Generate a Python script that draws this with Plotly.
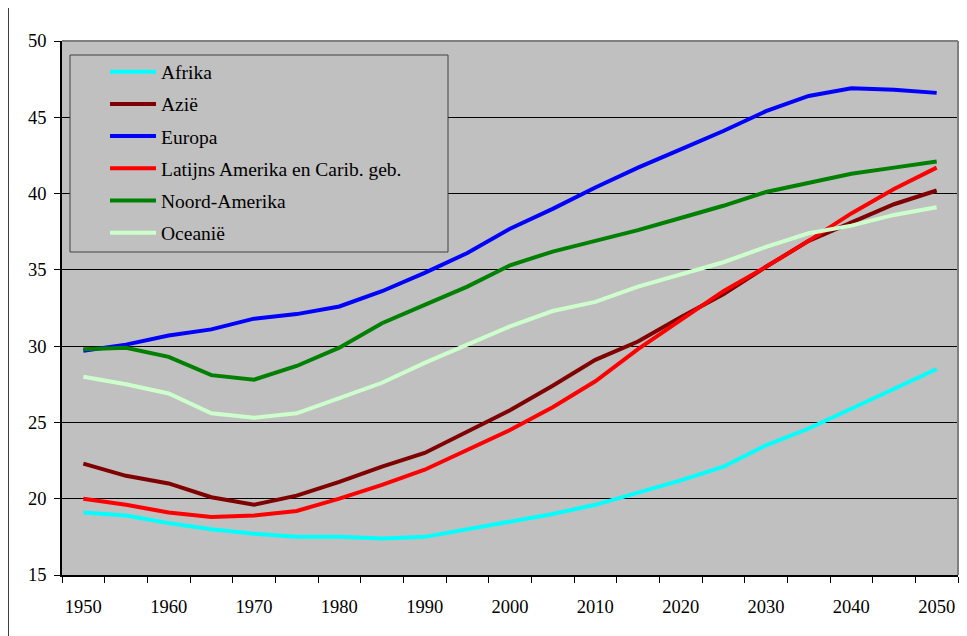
import plotly.graph_objects as go

years = list(range(1950, 2051, 5))

afrika = [19.1, 18.9, 18.4, 18.0, 17.7, 17.5, 17.5, 17.4, 17.5, 18.0, 18.5,
          19.0, 19.6, 20.4, 21.2, 22.1, 23.5, 24.6, 25.9, 27.2, 28.5]
azie = [22.3, 21.5, 21.0, 20.1, 19.6, 20.2, 21.1, 22.1, 23.0, 24.4, 25.8,
        27.4, 29.1, 30.3, 31.9, 33.4, 35.2, 36.9, 38.1, 39.3, 40.2]
europa = [29.7, 30.1, 30.7, 31.1, 31.8, 32.1, 32.6, 33.6, 34.8, 36.1, 37.7,
          39.0, 40.4, 41.7, 42.9, 44.1, 45.4, 46.4, 46.9, 46.8, 46.6]
latijns = [20.0, 19.6, 19.1, 18.8, 18.9, 19.2, 20.0, 20.9, 21.9, 23.2, 24.5,
           26.0, 27.7, 29.8, 31.7, 33.6, 35.2, 36.9, 38.7, 40.3, 41.7]
noord = [29.8, 29.9, 29.3, 28.1, 27.8, 28.7, 29.9, 31.5, 32.7, 33.9, 35.3,
         36.2, 36.9, 37.6, 38.4, 39.2, 40.1, 40.7, 41.3, 41.7, 42.1]
oceanie = [28.0, 27.5, 26.9, 25.6, 25.3, 25.6, 26.6, 27.6, 28.9, 30.1, 31.3,
           32.3, 32.9, 33.9, 34.7, 35.5, 36.5, 37.4, 37.9, 38.6, 39.1]

names = ["Afrika", "Azië", "Europa", "Latijns Amerika en Carib. geb.",
         "Noord-Amerika", "Oceanië"]
colors = ["#00FFFF", "#800000", "#0000FF", "#FF0000", "#008000", "#CCFFCC"]
series = [afrika, azie, europa, latijns, noord, oceanie]

FONT = "Liberation Serif"

# page sits 8px in from the window corner (body margin), so work in page px
OFF = 8
FW, FH = 967 - OFF, 636 - OFF
L, R, T, B = 62, 958, 41, 575          # plot area, window pixels
W, H = R - L, B - T
def px(x): return (x - L) / W
def py(y): return (B - y) / H

fig = go.Figure()
for name, col, vals in zip(names, colors, series):
    fig.add_trace(go.Scatter(x=years, y=vals, name=name, mode="lines",
                             line=dict(color=col, width=4), showlegend=False))

shapes = []
# outer chart border
shapes.append(dict(type="rect", xref="paper", yref="paper",
                   x0=px(8), x1=px(1000), y0=py(700), y1=py(5),
                   line=dict(color="black", width=1.5)))
# plot area frame (top/right gray)
shapes.append(dict(type="line", xref="paper", yref="paper", x0=0, x1=1, y0=1, y1=1,
                   line=dict(color="#808080", width=2)))
shapes.append(dict(type="line", xref="paper", yref="paper", x0=1, x1=1, y0=0, y1=1,
                   line=dict(color="#808080", width=2)))
# legend box
shapes.append(dict(type="rect", xref="paper", yref="paper",
                   x0=px(70), x1=px(448), y0=py(252), y1=py(55),
                   fillcolor="#C0C0C0", line=dict(color="#404040", width=1)))

annotations = []
for i, (name, col) in enumerate(zip(names, colors)):
    yy = 71.7 + i * 32.2
    shapes.append(dict(type="line", xref="paper", yref="paper",
                       x0=px(110), x1=px(156), y0=py(yy), y1=py(yy),
                       line=dict(color=col, width=4)))
    annotations.append(dict(text=name, xref="paper", yref="paper",
                            x=px(159), y=py(yy + 1), xanchor="left", yanchor="middle",
                            showarrow=False, font=dict(family=FONT, size=19.5, color="black")))

fig.update_layout(
    width=FW, height=FH,
    margin=dict(l=L - OFF, r=967 - R, t=T - OFF, b=636 - B),
    paper_bgcolor="white", plot_bgcolor="#C0C0C0",
    font=dict(family=FONT, size=18.5, color="black"),
    shapes=shapes, annotations=annotations,
    showlegend=False,
)
fig.update_xaxes(range=[1947.5, 2052.5], tickvals=list(range(1950, 2051, 10)),
                 ticks="", showgrid=False, zeroline=False,
                 showline=True, linecolor="black", linewidth=1.5,
                 ticklabelstandoff=14,
                 minor=dict(tickvals=[1947.5 + 5 * k for k in range(22)],
                            ticks="outside", ticklen=6, tickcolor="black", showgrid=False))
fig.update_yaxes(range=[15, 50], tickvals=list(range(15, 51, 5)),
                 ticks="outside", ticklen=6, tickcolor="black",
                 showgrid=True, gridcolor="black", gridwidth=1, zeroline=False,
                 showline=True, linecolor="black", linewidth=1.5,
                 ticklabelstandoff=4)

fig.write_html("out.html")
